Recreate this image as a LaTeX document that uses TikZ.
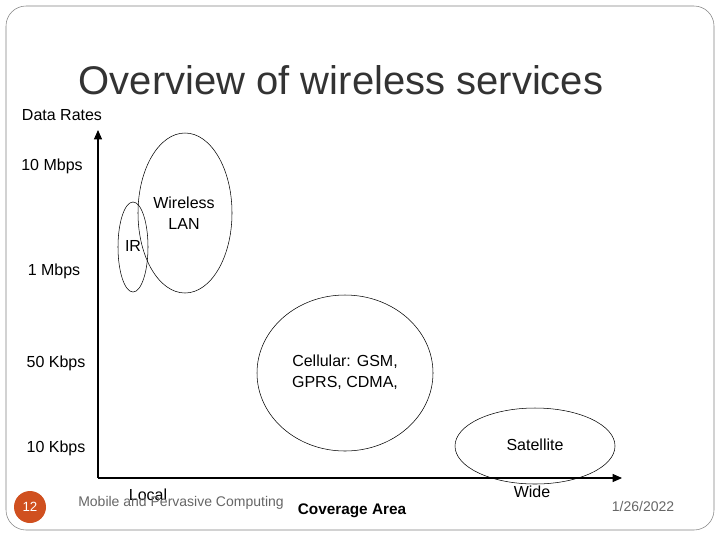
\documentclass[tikz,border=0pt]{standalone}
\usepackage{fontspec}
\setmainfont{Liberation Sans}
\usetikzlibrary{arrows.meta}
\definecolor{badge}{HTML}{D0501F}
\tikzset{
  label/.style  = {font=\fontsize{12}{16}\selectfont, align=center, inner sep=0pt},
  footer/.style = {font=\fontsize{10.5}{12}\selectfont, text=gray!80!black, inner sep=0pt},
  zone/.style   = {draw, thin}
}
\begin{document}
\begin{tikzpicture}[x=0.75pt, y=-0.75pt, >={Triangle[length=7pt,width=6pt]}]
  \useasboundingbox (0,0) rectangle (720,540);
  \draw[rounded corners=15pt, gray] (6,6) rectangle (714,530);

  % title and axes
  \node[font=\fontsize{30}{34}\selectfont, text=black!80] (title) at (341,80) {Overview of wireless services};
  \node[label] (rates) at (62,115) {Data Rates};
  \coordinate (origin) at (98,478);
  \coordinate (ytip) at (98,130);
  \coordinate (xtip) at (622,478);
  \draw[->, thick] (origin) -- (ytip);
  \draw[->, thick] (origin) -- (xtip);

  \node[label] (r1) at (52,166) {10 Mbps};
  \node[label] (r2) at (54,271) {1 Mbps};
  \node[label] (r3) at (56,363) {50 Kbps};
  \node[label] (r4) at (56,448) {10 Kbps};

  % coverage zones
  \draw[zone] (133,247) ellipse [x radius=15, y radius=45];
  \draw[zone] (185,213) ellipse [x radius=47, y radius=80];
  \draw[zone] (345,373) ellipse [x radius=88, y radius=78];
  \draw[zone] (535,446) ellipse [x radius=80, y radius=38];
  \node[label] (ir) at (133,246) {IR};
  \node[label] (wlan) at (184,213) {Wireless\\LAN};
  \node[label] (cell) at (345,372) {Cellular: GSM,\\GPRS, CDMA,};
  \node[label] (sat) at (535,445) {Satellite};

  \node[label] (local) at (148,495) {Local};
  \node[label] (wide) at (532,492) {Wide};
  \node[label, font=\bfseries\fontsize{11.5}{14}\selectfont] (cover) at (352,511) {Coverage Area};

  % footer
  \node[circle, fill=badge, minimum size=32*0.75pt, text=white, font=\fontsize{10}{11}\selectfont] (page) at (30,507) {12};
  \node[footer] (course) at (181,503) {Mobile and Pervasive Computing};
  \node[footer] (date) at (643,506) {1/26/2022};
\end{tikzpicture}
\end{document}
